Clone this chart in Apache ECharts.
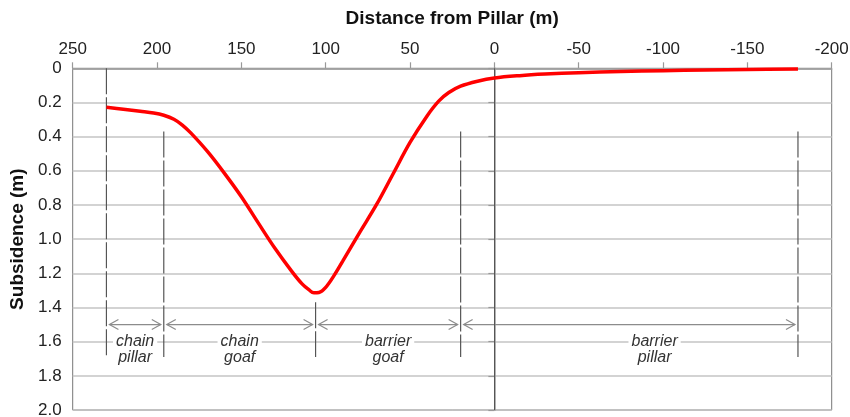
<!DOCTYPE html>
<html>
<head>
<meta charset="utf-8">
<script src="https://cdn.jsdelivr.net/npm/echarts@6/dist/echarts.min.js"></script>
<style>html,body{margin:0;padding:0;background:#fff}#chart{width:850px;height:417px}</style>
</head>
<body>
<div id="chart"></div>
<script>
// Subsidence profile (distance from pillar in m, subsidence in m)
const distance = [230, 220, 210, 202, 196, 190, 185, 180, 170, 160, 150, 140, 130, 120, 114, 110, 107, 104, 100, 95, 90, 80, 70, 60, 50, 40, 33, 27, 20, 10, 0, -15, -30, -50, -75, -100, -125, -150, -180];
const subsidence = [0.228, 0.240, 0.252, 0.262, 0.275, 0.298, 0.332, 0.378, 0.488, 0.615, 0.752, 0.905, 1.055, 1.190, 1.262, 1.296, 1.314, 1.312, 1.282, 1.212, 1.130, 0.963, 0.800, 0.617, 0.434, 0.280, 0.192, 0.142, 0.105, 0.076, 0.057, 0.043, 0.034, 0.026, 0.019, 0.014, 0.010, 0.007, 0.004];

// Zone boundaries
const boundaryX = [230, 196, 106, 20, -180];
const boundaryTop = [0, 0.37, 1.37, 0.37, 0.37];
const boundaryBottom = 1.69;

// Zone annotations
const zoneLabels = ['chain\npillar', 'chain\ngoaf', 'barrier\ngoaf', 'barrier\npillar'];
const zoneLabelX = [213, 151, 63, -95];
const arrowDepth = 1.5;
const labelDepth = 1.6;

const xTitle = 'Distance from Pillar (m)';
const yTitle = 'Subsidence (m)';

const FONT = '"Liberation Sans", Arial, Helvetica, sans-serif';

const curve = distance.map((d, i) => [d, subsidence[i]]);
const zones = zoneLabels.map((t, i) => [boundaryX[i], arrowDepth, boundaryX[i + 1], zoneLabelX[i], labelDepth]);

const boundarySeries = boundaryX.map((x, i) => ({
  type: 'line',
  data: [[x, boundaryTop[i]], [x, boundaryBottom]],
  showSymbol: false,
  silent: true,
  z: 2,
  lineStyle: { color: '#555', width: 1.2, type: [26, 3] }
}));

const chart = echarts.init(document.getElementById('chart'), null, { renderer: 'canvas' });
chart.setOption({
  animation: false,
  grid: {
    left: 72.7, right: 18.3, top: 68.3, bottom: 7,
    containLabel: false,
    outerBoundsMode: 'none',
    show: true, borderColor: '#777', borderWidth: 1, backgroundColor: 'transparent'
  },
  xAxis: {
    type: 'value',
    position: 'top',
    inverse: true,
    min: -200, max: 250, interval: 50,
    name: xTitle,
    nameLocation: 'middle',
    nameGap: 40,
    nameTextStyle: { fontFamily: FONT, fontWeight: 'bold', fontSize: 19, color: '#111' },
    axisLine: { show: true, lineStyle: { color: '#999', width: 1.5 } },
    axisTick: { show: true, length: 6, lineStyle: { color: '#999', width: 1.2 } },
    axisLabel: { fontFamily: FONT, fontSize: 17, color: '#222', margin: 10 },
    splitLine: { show: false }
  },
  yAxis: {
    type: 'value',
    inverse: true,
    min: 0, max: 2, interval: 0.2,
    name: yTitle,
    nameLocation: 'middle',
    nameGap: 45,
    nameTextStyle: { fontFamily: FONT, fontWeight: 'bold', fontSize: 19, color: '#111' },
    axisLine: { show: true, lineStyle: { color: '#999', width: 1.5 } },
    axisTick: { show: true, length: 6, lineStyle: { color: '#999', width: 1.2 } },
    axisLabel: {
      fontFamily: FONT, fontSize: 17, color: '#222', margin: 11,
      formatter: v => (v === 0 ? '0' : v.toFixed(1))
    },
    splitLine: { show: true, lineStyle: { color: '#c4c4c4', width: 1.5 } }
  },
  series: [
    ...boundarySeries,
    {
      type: 'custom',
      silent: true,
      z: 3,
      data: zones,
      encode: { x: [0, 2, 3], y: [1, 4] },
      renderItem: function (params, api) {
        const p1 = api.coord([api.value(0), api.value(1)]);
        const p2 = api.coord([api.value(2), api.value(1)]);
        const lp = api.coord([api.value(3), api.value(4)]);
        const py = p1[1];
        const a = p1[0] + 3, b = p2[0] - 3;
        const st = { stroke: '#8c8c8c', lineWidth: 1.2, fill: 'none' };
        return {
          type: 'group',
          children: [
            { type: 'line', shape: { x1: a, y1: py, x2: b, y2: py }, style: st },
            { type: 'polyline', shape: { points: [[a + 9, py - 5], [a, py], [a + 9, py + 5]] }, style: st },
            { type: 'polyline', shape: { points: [[b - 9, py - 5], [b, py], [b - 9, py + 5]] }, style: st },
            {
              type: 'text',
              style: {
                text: zoneLabels[params.dataIndex],
                x: lp[0], y: lp[1] - 8,
                align: 'center', verticalAlign: 'top',
                fontFamily: FONT, fontStyle: 'italic', fontSize: 16, lineHeight: 16,
                fill: '#333', backgroundColor: '#fff', padding: [0, 3]
              }
            }
          ]
        };
      }
    },
    {
      type: 'line',
      data: curve,
      smooth: 0.35,
      showSymbol: false,
      z: 5,
      lineStyle: { color: '#ff0000', width: 3.5 },
      markLine: {
        silent: true,
        symbol: 'none',
        label: { show: false },
        lineStyle: { color: '#555', width: 1, type: 'solid' },
        data: [{ xAxis: 0 }]
      }
    }
  ]
});
</script>
</body>
</html>
